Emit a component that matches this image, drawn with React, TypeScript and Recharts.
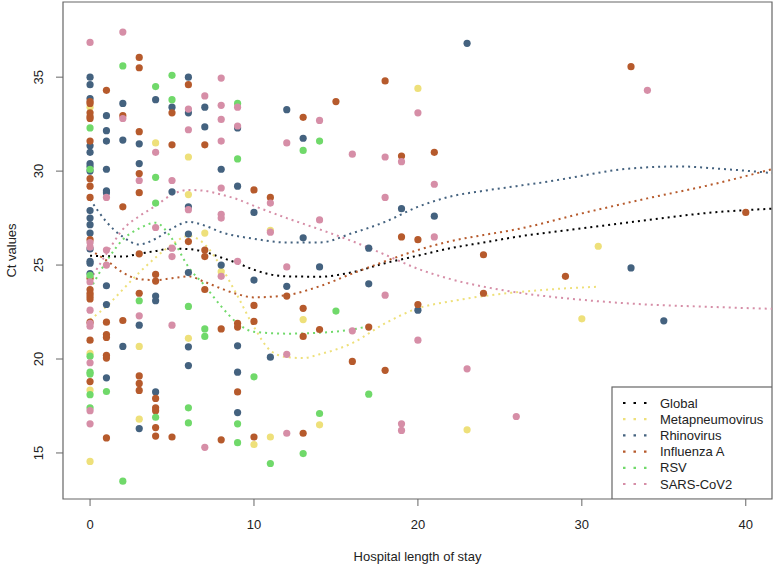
import {
  ComposedChart,
  Scatter,
  Line,
  XAxis,
  YAxis,
  ReferenceArea,
} from "recharts";

// raw points, [length of stay, Ct]
const HMPV_PTS = [
  [0, 33.4], [0, 20.3], [0, 18.35], [0, 14.55], [3, 20.67], [3, 16.8],
  [4, 31.5], [6, 30.75], [6, 28.75], [6, 21.1], [7, 26.7], [8, 24.65],
  [10, 15.45], [11, 26.85], [11, 15.85], [13, 22.1], [14, 16.5], [20, 34.4],
  [23, 16.23], [30, 22.14], [31, 26.0],
];

const RHINO_PTS = [
  [0, 35.0], [0, 34.6], [0, 33.86], [0, 31.35], [0, 31.0], [0, 30.4],
  [0, 30.25], [0, 30.0], [0, 27.9], [0, 27.5], [0, 27.15], [0, 26.7],
  [0, 25.86], [0, 25.2], [0, 25.1], [0, 24.55],
  [1, 32.95], [1, 32.15], [1, 31.6], [1, 30.1], [1, 28.95], [1, 28.85],
  [1, 23.9], [1, 22.9], [1, 19.0],
  [2, 33.6], [2, 31.65], [2, 20.67],
  [3, 31.45], [3, 30.4], [3, 21.8], [3, 16.3],
  [4, 33.8], [4, 23.35], [4, 23.1], [4, 18.25],
  [5, 33.4], [5, 28.9],
  [6, 35.0], [6, 33.1], [6, 28.1], [6, 26.65], [6, 24.6], [6, 20.65], [6, 19.65],
  [7, 33.4], [7, 32.35],
  [8, 30.1], [8, 25.0],
  [9, 32.3], [9, 29.2], [9, 20.7], [9, 19.3], [9, 17.15],
  [10, 27.8], [10, 24.2], [11, 20.1], [12, 33.27], [12, 23.87],
  [13, 31.75], [13, 26.45], [14, 24.9], [17, 25.9], [17, 24.0],
  [19, 28.0], [20, 22.6], [21, 27.6], [23, 36.8], [33, 24.85], [35, 22.03],
];

const FLU_PTS = [
  [0, 33.7], [0, 33.6], [0, 33.1], [0, 32.9], [0, 32.8], [0, 31.6],
  [0, 29.6], [0, 29.2], [0, 28.6], [0, 26.35], [0, 24.3], [0, 23.7],
  [0, 23.5], [0, 23.35], [0, 23.2], [0, 21.96], [0, 21.0], [0, 18.8],
  [1, 34.3], [1, 21.96], [1, 21.3], [1, 21.15], [1, 20.2], [1, 20.05], [1, 15.8],
  [2, 32.95], [2, 28.1], [2, 22.05],
  [3, 36.05], [3, 35.5], [3, 32.1], [3, 29.87], [3, 28.85], [3, 25.6],
  [3, 23.5], [3, 19.1], [3, 18.7], [3, 18.33],
  [4, 24.5], [4, 24.15], [4, 17.9], [4, 17.4], [4, 17.25], [4, 16.35], [4, 15.9],
  [5, 33.1], [5, 31.4], [5, 15.85],
  [6, 34.6], [6, 26.25],
  [7, 31.4], [7, 25.8], [7, 25.45], [7, 23.7],
  [8, 21.6], [8, 15.7],
  [9, 21.9], [9, 21.7], [9, 18.25],
  [10, 29.0], [10, 22.85], [10, 22.0], [10, 15.85],
  [11, 28.6], [12, 23.35],
  [13, 32.86], [13, 22.7], [13, 21.2], [13, 16.05],
  [14, 21.57], [15, 33.7], [16, 19.87], [17, 21.7], [18, 34.8], [18, 19.4],
  [19, 30.8], [19, 26.5], [20, 26.35], [20, 22.9], [21, 31.0],
  [24, 25.55], [24, 23.5], [29, 24.4], [33, 35.56], [40, 27.8],
];

const RSV_PTS = [
  [0, 32.3], [0, 30.1], [0, 24.45], [0, 20.15], [0, 19.3], [0, 19.2],
  [0, 18.1], [0, 17.4], [1, 18.27], [2, 35.6], [2, 13.5], [3, 23.1],
  [4, 34.5], [4, 29.67], [4, 28.3], [4, 16.9], [5, 35.1], [5, 33.8],
  [6, 22.8], [6, 17.4], [6, 16.6], [7, 21.6], [7, 21.2],
  [9, 33.6], [9, 30.65], [9, 16.55], [9, 15.55], [10, 19.05], [11, 14.44],
  [13, 31.1], [13, 14.97], [14, 31.6], [14, 17.1], [15, 22.55], [17, 18.13],
];

const COV_PTS = [
  [0, 36.85], [0, 26.2], [0, 25.95], [0, 24.1], [0, 22.6], [0, 21.9],
  [0, 21.75], [0, 19.8], [0, 17.25], [0, 16.55],
  [1, 28.6], [1, 25.8], [1, 25.0], [2, 37.4], [2, 32.8], [3, 29.5], [3, 22.3],
  [4, 31.0], [4, 27.0], [5, 29.5], [5, 25.9], [5, 25.45], [5, 21.8],
  [6, 33.3], [6, 32.2], [6, 27.95], [7, 34.0], [7, 15.3],
  [8, 34.95], [8, 33.5], [8, 32.75], [8, 31.6], [8, 29.1], [8, 27.7], [8, 27.5], [8, 24.4],
  [9, 33.4], [9, 32.4], [9, 25.2], [11, 28.3], [11, 26.75],
  [12, 31.5], [12, 24.9], [12, 20.25], [12, 16.05], [14, 32.7], [14, 27.4],
  [16, 30.9], [16, 21.5], [18, 30.75], [18, 28.6], [18, 23.4],
  [19, 30.5], [19, 16.55], [19, 16.2], [20, 33.1], [20, 21.0],
  [21, 29.3], [21, 26.5], [23, 19.48], [26, 16.94], [34, 34.3],
];

// smoothed fits
const GLOBAL_FIT = [
  [0, 25.5], [1, 25.47], [2, 25.45], [3, 25.6], [4, 25.75], [5, 25.88],
  [6, 25.85], [7, 25.7], [8, 25.4], [9, 25.1], [10, 24.75], [11, 24.5],
  [12, 24.4], [14, 24.38], [16, 24.62], [18, 25.1], [20, 25.5], [22, 25.9],
  [24, 26.2], [26, 26.5], [30, 26.95], [34, 27.4], [38, 27.8], [41.6, 28.0],
];
const HMPV_FIT = [
  [0, 22.1], [1, 22.8], [2, 23.7], [3, 24.6], [4, 25.4], [5, 26.1], [6, 26.55],
  [7, 26.1], [8, 24.9], [9, 23.35], [10, 21.7], [11, 20.45], [12, 20.1],
  [13, 20.05], [14, 20.25], [16, 20.85], [18, 21.9], [20, 22.7], [22, 23.07],
  [24, 23.35], [26, 23.55], [28, 23.7], [31, 23.85],
];
const RHINO_FIT = [
  [0, 28.5], [1, 27.3], [2, 26.5], [3, 26.1], [4, 26.4], [5, 26.95], [6, 27.3],
  [7, 27.1], [8, 26.75], [10, 26.4], [12, 26.2], [14, 26.2], [16, 26.7],
  [18, 27.3], [20, 28.1], [22, 28.65], [24, 28.95], [26, 29.2], [28, 29.45],
  [30, 29.75], [32, 30.05], [34, 30.2], [36, 30.25], [38, 30.15], [41.6, 29.9],
];
const FLU_FIT = [
  [0, 25.8], [1, 25.25], [2, 24.6], [3, 24.25], [4, 24.2], [5, 24.3], [6, 24.4],
  [7, 24.1], [8, 23.75], [9, 23.45], [10, 23.28], [12, 23.4], [14, 23.87],
  [16, 24.55], [18, 25.2], [20, 25.8], [22, 26.27], [24, 26.6], [26, 26.9],
  [30, 27.75], [34, 28.55], [38, 29.3], [41.6, 30.1],
];
const RSV_FIT = [
  [0, 23.7], [1, 25.2], [2, 26.35], [3, 26.95], [4, 27.25], [5, 26.4], [6, 24.9],
  [7, 23.9], [8, 22.8], [9, 21.9], [10, 21.45], [12, 21.35], [14, 21.4],
  [16, 21.57], [17, 21.75],
];
const COV_FIT = [
  [0, 24.2], [1, 25.6], [2, 26.9], [3, 27.6], [4, 28.15], [5, 28.75], [6, 29.0],
  [7, 28.95], [8, 28.75], [9, 28.5], [10, 28.15], [12, 27.5], [14, 26.9],
  [16, 26.27], [18, 25.55], [20, 24.8], [22, 24.25], [24, 23.85], [26, 23.55],
  [30, 23.15], [34, 22.9], [38, 22.77], [41.6, 22.67],
];

const X_TICKS = [0, 10, 20, 30, 40];
const Y_TICKS = [15, 20, 25, 30, 35];

const SERIES = [
  { name: "Global", color: "#000000", pts: null, fit: GLOBAL_FIT },
  { name: "Metapneumovirus", color: "#EEE07A", pts: HMPV_PTS, fit: HMPV_FIT },
  { name: "Rhinovirus", color: "#44627F", pts: RHINO_PTS, fit: RHINO_FIT },
  { name: "Influenza A", color: "#B65A2C", pts: FLU_PTS, fit: FLU_FIT },
  { name: "RSV", color: "#70D96A", pts: RSV_PTS, fit: RSV_FIT },
  { name: "SARS-CoV2", color: "#D68EA7", pts: COV_PTS, fit: COV_FIT },
];

const FONT = "'Liberation Sans', Arial, sans-serif";
const AXIS_GREY = "#666";

const toRows = (pairs: number[][]) => pairs.map(([x, y]) => ({ x, y }));

function XTick({ x, y, payload }: any) {
  return (
    <text x={x} y={y + 21} textAnchor="middle" fontSize={13} fill="#222" fontFamily={FONT}>
      {payload.value}
    </text>
  );
}

function YTick({ x, y, payload }: any) {
  const cx = x - 15;
  return (
    <text
      x={cx}
      y={y}
      transform={`rotate(-90 ${cx} ${y})`}
      textAnchor="middle"
      dominantBaseline="central"
      fontSize={13}
      fill="#222"
      fontFamily={FONT}
    >
      {payload.value}
    </text>
  );
}

function Legend() {
  return (
    <svg
      width={161}
      height={113}
      style={{ position: "absolute", left: 611, top: 386, pointerEvents: "none" }}
    >
      <rect x={1} y={1} width={160} height={112} fill="#fff" stroke={AXIS_GREY} strokeWidth={1.2} />
      {SERIES.map((s, i) => {
        const cy = 17 + i * 16.2;
        return (
          <g key={s.name}>
            <line
              x1={12}
              x2={36}
              y1={cy}
              y2={cy}
              stroke={s.color}
              strokeWidth={2.2}
              strokeDasharray="2.5 8"
            />
            <text x={49} y={cy + 4.5} fontSize={13} fill="#222" fontFamily={FONT}>
              {s.name}
            </text>
          </g>
        );
      })}
    </svg>
  );
}

export default function App() {
  return (
    <div style={{ position: "absolute", left: 0, top: 0, width: 774, height: 566, background: "#fff" }}>
      <ComposedChart
        width={774}
        height={566}
        margin={{ top: 2, right: 2, bottom: 0, left: 0 }}
      >
        <XAxis
          type="number"
          dataKey="x"
          domain={[-1.65, 41.6]}
          ticks={X_TICKS}
          allowDataOverflow
          height={67}
          axisLine={false}
          tickSize={7}
          tickLine={{ stroke: AXIS_GREY }}
          tick={<XTick />}
          label={{
            value: "Hospital length of stay",
            position: "insideBottom",
            offset: 5,
            style: { fontSize: 13, fill: "#222", fontFamily: FONT },
          }}
        />
        <YAxis
          type="number"
          dataKey="y"
          domain={[12.55, 39.0]}
          ticks={Y_TICKS}
          allowDataOverflow
          width={63}
          axisLine={false}
          tickSize={7}
          tickLine={{ stroke: AXIS_GREY }}
          tick={<YTick />}
          label={{
            value: "Ct values",
            angle: -90,
            position: "insideLeft",
            offset: 11,
            style: { fontSize: 13, fill: "#222", fontFamily: FONT, textAnchor: "middle" },
          }}
        />
        <ReferenceArea
          x1={-1.65}
          x2={41.6}
          y1={12.55}
          y2={39.0}
          fill="none"
          stroke={AXIS_GREY}
          strokeWidth={1.2}
          ifOverflow="visible"
        />
        {SERIES.filter((s) => s.pts).map((s) => (
          <Scatter
            key={"p" + s.name}
            name={s.name}
            data={toRows(s.pts as number[][])}
            isAnimationActive={false}
            shape={(p: any) => <circle cx={p.cx} cy={p.cy} r={3.6} fill={s.color} />}
          />
        ))}
        {SERIES.map((s) => (
          <Line
            key={"l" + s.name}
            data={toRows(s.fit)}
            dataKey="y"
            type="monotone"
            stroke={s.color}
            strokeWidth={2}
            strokeDasharray="2 4"
            dot={false}
            activeDot={false}
            isAnimationActive={false}
          />
        ))}
      </ComposedChart>
      <Legend />
    </div>
  );
}
